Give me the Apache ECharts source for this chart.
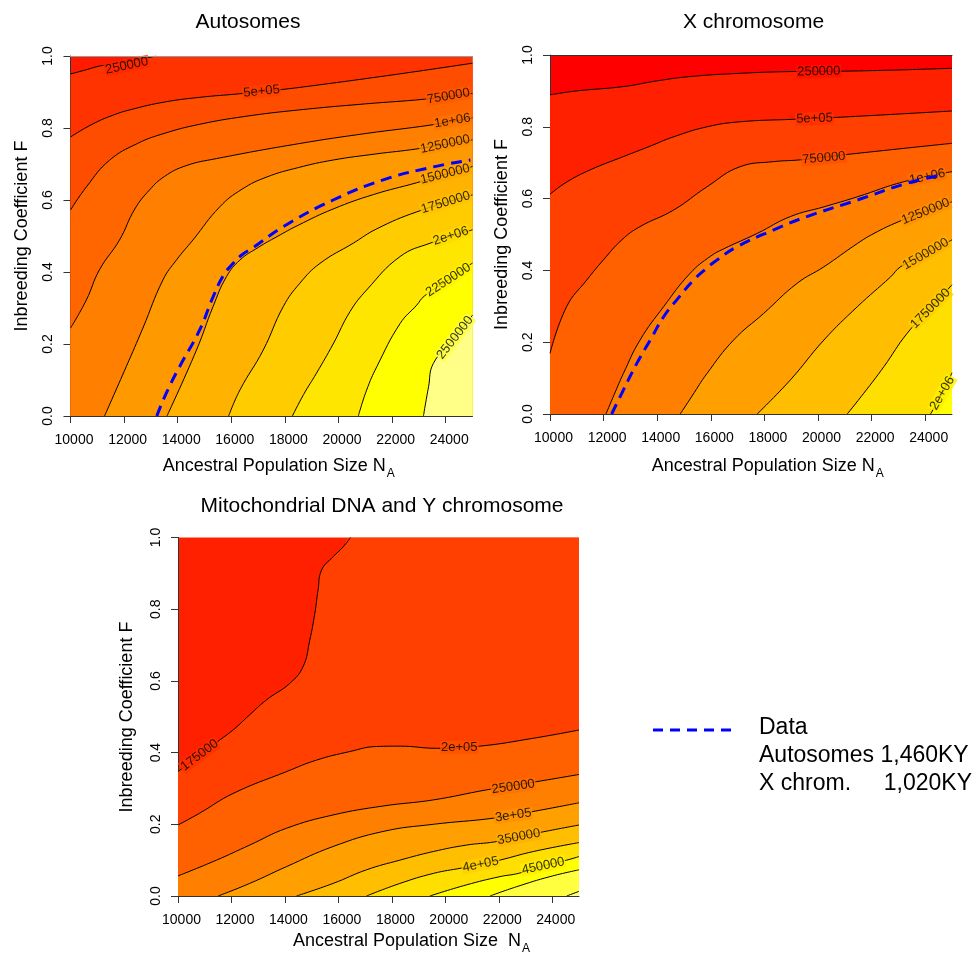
<!DOCTYPE html>
<html><head><meta charset="utf-8">
<script src="https://cdn.jsdelivr.net/npm/echarts@6/dist/echarts.min.js"></script>
<style>html,body{margin:0;padding:0;background:#fff}#c{width:976px;height:956px}</style>
</head><body><div id="c"></div>
<script>
// ---------- axis ticks ----------
const xTicks = [10000,12000,14000,16000,18000,20000,22000,24000];
const yTicks = [0,0.2,0.4,0.6,0.8,1.0];
const X_MIN = 10000, X_MAX = 25000;

// ---------- Autosomes ----------
const autoLevels = ['250000','5e+05','750000','1e+06','1250000','1500000','1750000','2e+06','2250000','2500000'];
const auto250k  = [[10000,0.95],[10600,0.962],[11080,0.972],[12140,0.985],[13200,1.0]];
const auto500k  = [[10000,0.775],[10800,0.81],[11600,0.836],[12300,0.852],[13500,0.872],[14800,0.885],[16300,0.895],[17900,0.907],[19500,0.922],[21000,0.937],[23000,0.958],[25000,0.98]];
const auto750k  = [[10000,0.572],[10600,0.637],[11450,0.71],[12500,0.757],[13500,0.785],[14800,0.81],[16500,0.832],[18500,0.85],[21000,0.867],[23200,0.88],[25000,0.896]];
const auto1000k = [[10000,0.244],[10590,0.322],[11080,0.406],[11830,0.489],[12400,0.575],[12950,0.628],[13500,0.665],[14300,0.695],[15450,0.715],[18560,0.757],[21050,0.785],[23420,0.808],[25000,0.828]];
const auto1250k = [[11270,0],[12080,0.137],[12700,0.244],[13450,0.378],[13950,0.433],[14570,0.489],[15570,0.581],[16400,0.63],[17330,0.664],[18500,0.69],[19800,0.711],[21400,0.728],[22930,0.742],[25000,0.767]];
const auto1500k = [[13600,0],[14700,0.183],[15320,0.304],[15820,0.387],[16320,0.433],[17000,0.468],[17700,0.498],[18500,0.53],[19800,0.575],[21300,0.615],[22920,0.648],[25000,0.693]];
const auto1750k = [[15900,0],[16320,0.072],[17190,0.183],[17940,0.304],[18560,0.369],[19310,0.424],[20550,0.48],[21430,0.52],[22920,0.567],[25000,0.614]];
const auto2000k = [[18280,0],[18700,0.06],[19180,0.119],[19800,0.2],[20430,0.29],[21050,0.35],[22300,0.443],[23420,0.48],[25000,0.517]];
const auto2250k = [[20740,0],[21050,0.072],[21430,0.137],[22300,0.257],[22920,0.308],[23200,0.333],[24100,0.378],[25000,0.425]];
const auto2500k = [[23170,0],[23360,0.081],[23540,0.146],[24350,0.218],[25000,0.28]];
const autoData  = [[13220,0],[13570,0.063],[14070,0.137],[14820,0.239],[15320,0.331],[15700,0.39],[16070,0.424],[16400,0.448],[16820,0.468],[17940,0.526],[19800,0.6],[21670,0.656],[23540,0.692],[24920,0.711]];
const autoLabelPos = [[12100,0.973],[17130,0.902],[24100,0.888],[24250,0.82],[23980,0.755],[23980,0.672],[24000,0.593],[24190,0.5],[24100,0.378],[24350,0.218]];

// ---------- X chromosome ----------
const xLevels = ['250000','5e+05','750000','1e+06','1250000','1500000','1750000','2e+06'];
const x250k  = [[10000,0.889],[11000,0.9],[12740,0.912],[14000,0.928],[15230,0.94],[17100,0.949],[19100,0.954],[21000,0.955],[25000,0.963]];
const x500k  = [[10000,0.612],[10600,0.645],[11500,0.68],[12740,0.717],[13700,0.745],[14610,0.772],[15860,0.8],[17100,0.814],[19100,0.821],[20650,0.826],[25000,0.844]];
const x750k  = [[10000,0.169],[10620,0.299],[11370,0.373],[11990,0.429],[12680,0.485],[13360,0.522],[14610,0.568],[15860,0.633],[17100,0.689],[18350,0.703],[19350,0.708],[21090,0.723],[25000,0.754]];
const x1000k = [[12090,0],[12400,0.055],[12740,0.113],[13360,0.206],[14240,0.299],[15230,0.392],[16000,0.44],[16480,0.46],[17730,0.503],[18970,0.55],[20220,0.577],[21470,0.605],[23200,0.647],[25000,0.675]];
const x1250k = [[14860,0],[15300,0.05],[15860,0.113],[16850,0.206],[17970,0.28],[19220,0.364],[20220,0.41],[21470,0.475],[22090,0.503],[23020,0.536],[24020,0.564],[25000,0.591]];
const x1500k = [[17730,0],[18970,0.095],[20220,0.206],[21470,0.299],[22710,0.382],[23080,0.41],[24020,0.446],[25000,0.485]];
const x1750k = [[21090,0],[21710,0.058],[22460,0.132],[23330,0.225],[24200,0.294],[25000,0.36]];
const x2000k = [[24200,0],[24640,0.058],[25000,0.115]];
const xData  = [[12300,0],[12740,0.067],[13240,0.141],[13740,0.206],[14240,0.271],[14730,0.318],[15360,0.373],[15800,0.403],[16230,0.429],[16980,0.466],[18350,0.513],[19590,0.55],[21470,0.596],[23330,0.643],[24640,0.666]];
const xLabelPos = [[20030,0.954],[19870,0.823],[20220,0.713],[24080,0.661],[24020,0.564],[24020,0.446],[24200,0.294],[24640,0.058]];

// ---------- Mitochondrial DNA and Y chromosome ----------
const mitoLevels = ['175000','2e+05','250000','3e+05','350000','4e+05','450000','5e+05','550000'];
const mito175k = [[10000,0.347],[10810,0.393],[11560,0.435],[12060,0.463],[12560,0.497],[13310,0.547],[14180,0.593],[14680,0.64],[14930,0.714],[15120,0.789],[15240,0.854],[15370,0.909],[15800,0.946],[16180,0.974],[16450,1.0]];
const mito200k = [[10000,0.198],[10810,0.231],[12060,0.286],[14060,0.347],[15180,0.379],[16430,0.403],[17430,0.417],[18310,0.418],[19670,0.412],[21290,0.418],[23290,0.44],[25000,0.463]];
const mito250k = [[10000,0.056],[11440,0.1],[12680,0.142],[14060,0.189],[15800,0.226],[17670,0.251],[19550,0.268],[21540,0.296],[23420,0.319],[25000,0.339]];
const mito300k = [[11500,0],[12680,0.035],[14060,0.082],[15800,0.138],[17670,0.18],[19550,0.2],[21790,0.217],[23230,0.235],[25000,0.26]];
const mito350k = [[14430,0],[15800,0.035],[17050,0.073],[18300,0.1],[19550,0.124],[20790,0.142],[21850,0.151],[22750,0.165],[23660,0.179],[25000,0.198]];
const mito400k = [[17050,0],[18300,0.035],[19550,0.063],[20610,0.078],[21320,0.088],[22040,0.1],[23290,0.124],[25000,0.149]];
const mito450k = [[19420,0],[20790,0.031],[22040,0.054],[22730,0.063],[23660,0.084],[24540,0.1],[25000,0.11]];
const mito500k = [[21670,0],[22670,0.026],[23910,0.054],[25000,0.073]];
const mito550k = [[24540,0],[25000,0.013]];
const mitoLabelPos = [[10810,0.393],[20520,0.414],[22540,0.305],[22540,0.225],[22750,0.165],[21320,0.088],[23660,0.084]];

// ---------- legend ----------
const legendLines = ['Data','Autosomes 1,460KY','X chrom.'];
const legendValue3 = '1,020KY';

// ---------- styles ----------
const FONT = '"Liberation Sans", Arial, Helvetica, sans-serif';
const autoColors = ['#FF1A00','#FF3300','#FF4D00','#FF6600','#FF8000','#FF9900','#FFB300','#FFCC00','#FFE600','#FFFF00','#FFFF88'];
const xColors    = ['#FF0000','#FF2000','#FF4000','#FF6000','#FF8000','#FFA000','#FFBF00','#FFDF00','#FFFF00'];
const mitoColors = ['#FF2000','#FF4000','#FF6000','#FF8000','#FF9F00','#FFBF00','#FFDF00','#FFFF00','#FFFF40','#FFFF80'];
const autoLabelAngle = [12,6,10,10,12,14,17,18,33,52];
const xLabelAngle    = [1,2,5,12,22,30,45,60];
const mitoLabelAngle = [37,0,8,8,10,12,12];
const SMOOTH = 0.45;

function mix(a,b){
  const pa=[1,3,5].map(i=>parseInt(a.substr(i,2),16));
  const pb=[1,3,5].map(i=>parseInt(b.substr(i,2),16));
  return 'rgb('+pa.map((v,i)=>Math.round((v+pb[i])/2)).join(',')+')';
}

const panels = [
  {grid:{left:70.5,top:56,width:402,height:360}, colors:autoColors, lines:[auto250k,auto500k,auto750k,auto1000k,auto1250k,auto1500k,auto1750k,auto2000k,auto2250k,auto2500k], levels:autoLevels, labelPos:autoLabelPos, labelAngle:autoLabelAngle, data:autoData, top:'#9a9a9a'},
  {grid:{left:550,top:55,width:402,height:359}, colors:xColors, lines:[x250k,x500k,x750k,x1000k,x1250k,x1500k,x1750k,x2000k], levels:xLevels, labelPos:xLabelPos, labelAngle:xLabelAngle, data:xData, top:'#333333'},
  {grid:{left:178,top:537.5,width:401,height:358.5}, colors:mitoColors, lines:[mito175k,mito200k,mito250k,mito300k,mito350k,mito400k,mito450k,mito500k,mito550k], levels:mitoLevels, labelPos:mitoLabelPos, labelAngle:mitoLabelAngle, data:null, top:null}
];

const option = {animation:false, color:['#000000'], grid:[], xAxis:[], yAxis:[], series:[], graphic:[]};
panels.forEach((p,i)=>{
  option.grid.push(Object.assign({}, p.grid, {show:true, backgroundColor:p.colors[0], borderWidth:0, borderColor:'rgba(0,0,0,0)'}));
  const xi = option.xAxis.length;
  option.xAxis.push({type:'value', gridIndex:i, min:X_MIN, max:X_MAX,
    axisLine:{show:true,onZero:false,lineStyle:{color:'#333',width:1}},
    axisTick:{show:true,length:7,customValues:xTicks,lineStyle:{color:'#333'}},
    axisLabel:{customValues:xTicks,fontSize:14,fontFamily:FONT,color:'#000',margin:17,padding:[0,0,0,7],formatter:v=>String(v)},
    splitLine:{show:false}, splitArea:{show:false}});
  if(p.top){
    option.xAxis.push({type:'value', gridIndex:i, position:'top', min:X_MIN, max:X_MAX, z:10,
      axisLine:{show:true,onZero:false,lineStyle:{color:p.top,width:1}},
      axisTick:{show:false}, axisLabel:{show:false}, splitLine:{show:false}, splitArea:{show:false}});
  }
  option.yAxis.push({type:'value', gridIndex:i, min:0, max:1,
    axisLine:{show:true,onZero:false,lineStyle:{color:'#333',width:1}},
    axisTick:{show:true,length:7,customValues:yTicks,lineStyle:{color:'#333'}},
    axisLabel:{customValues:yTicks,rotate:90,fontSize:14,fontFamily:FONT,color:'#000',margin:15,formatter:v=>v.toFixed(1)},
    splitLine:{show:false}, splitArea:{show:false}});
  const yi = i;
  // filled bands (each filled below its contour)
  p.lines.forEach((ln,k)=>{
    const fd = ln.slice();
    const last = ln[ln.length-1];
    if(last[1] >= 1 && last[0] < X_MAX) fd.push([X_MAX,1]);
    option.series.push({type:'line', xAxisIndex:xi, yAxisIndex:yi, data:fd, symbol:'none', showSymbol:false, silent:true, smooth:SMOOTH,
      itemStyle:{color:p.colors[k+1]},
      lineStyle:{width:0,opacity:0,color:p.colors[k+1]}, areaStyle:{color:p.colors[k+1],opacity:1,origin:'start'}, z:2});
  });
  // contour strokes
  p.lines.forEach((ln,k)=>{
    option.series.push({type:'line', xAxisIndex:xi, yAxisIndex:yi, data:ln, symbol:'none', showSymbol:false, silent:true, smooth:SMOOTH,
      itemStyle:{color:'#000'}, lineStyle:{color:'#000',width:1}, z:3});
  });
  // contour labels
  option.series.push({type:'scatter', xAxisIndex:xi, yAxisIndex:yi, symbolSize:0, silent:true, z:4,
    itemStyle:{color:'rgba(0,0,0,0)'},
    data:p.labelPos.map((pos,k)=>({value:pos, name:p.levels[k],
      label:{rotate:p.labelAngle[k], backgroundColor:mix(p.colors[k],p.colors[k+1])}})),
    label:{show:true, position:'inside', formatter:'{b}', fontSize:13, lineHeight:13, fontFamily:FONT, color:'#000', padding:[0,1]}});
  if(p.data){
    option.series.push({type:'line', xAxisIndex:xi, yAxisIndex:yi, data:p.data, symbol:'none', showSymbol:false, silent:true, smooth:SMOOTH,
      itemStyle:{color:'#0000FF'}, lineStyle:{color:'#0000FF',width:3,type:[11,7]}, z:5});
  }
});

// text measuring for subscripts
const ctx = document.createElement('canvas').getContext('2d');
function tw(t,size){ctx.font = size+'px '+FONT; return ctx.measureText(t).width;}
function txt(t,x,y,size,extra){
  return Object.assign({type:'text', x:x, y:y, silent:true,
    style:{text:t, fontSize:size, fontFamily:FONT, fill:'#000', align:'center', verticalAlign:'middle'}}, extra||{});
}
const G = option.graphic;
G.push(txt('Autosomes',248,22,21));
G.push(txt('X chromosome',753.5,22,21));
G.push(txt('Mitochondrial DNA and Y chromosome',382,506,21));
G.push(txt('Inbreeding Coefficient F',21.7,236,18,{rotation:Math.PI/2}));
G.push(txt('Inbreeding Coefficient F',502.5,234.5,18,{rotation:Math.PI/2}));
G.push(txt('Inbreeding Coefficient F',127.5,717,18,{rotation:Math.PI/2}));
[['Ancestral Population Size N',162.7,466],['Ancestral Population Size N',651.7,466],['Ancestral Population Size  N',293,941]].forEach(a=>{
  const t = txt(a[0],a[1],a[2],18); t.style.align='left'; G.push(t);
  const s = txt('A',a[1]+tw(a[0],18)+1,a[2]+8,12); s.style.align='left'; G.push(s);
});
// legend
G.push({type:'line', silent:true, shape:{x1:653,y1:730,x2:733,y2:730}, style:{stroke:'#0000FF',lineWidth:3,lineDash:[10,7]}});
[[legendLines[0],728],[legendLines[1],756],[legendLines[2],784]].forEach(a=>{
  const t = txt(a[0],759,a[1],23); t.style.align='left'; G.push(t);
});
{ const t = txt(legendValue3,972,784,23); t.style.align='right'; G.push(t); }

const chart = echarts.init(document.getElementById('c'), null, {renderer:'canvas'});
chart.setOption(option);
</script></body></html>
